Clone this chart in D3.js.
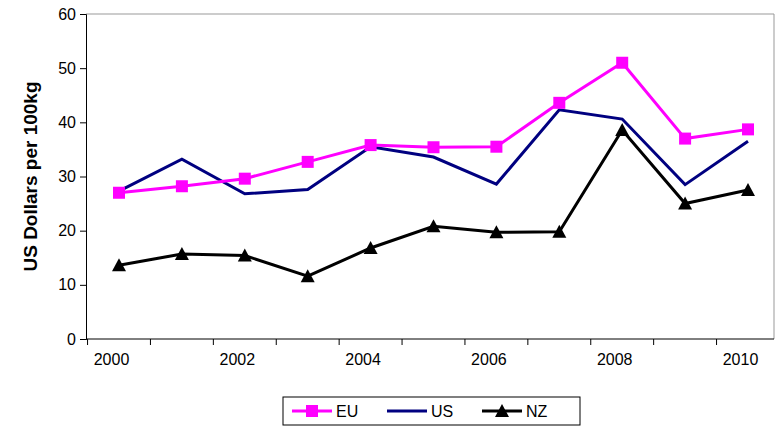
<!DOCTYPE html>
<html>
<head>
<meta charset="utf-8" />
<script src="https://cdn.jsdelivr.net/npm/d3@7"></script>
<style>
body { margin: 0; background: #fff; }
text { font-family: "Liberation Sans", Arial, sans-serif; }
</style>
</head>
<body>
<script>
var years = [2000, 2001, 2002, 2003, 2004, 2005, 2006, 2007, 2008, 2009, 2010];
var tickYears = [2000, 2002, 2004, 2006, 2008, 2010];
var eu = [27, 28.2, 29.6, 32.7, 35.8, 35.4, 35.5, 43.6, 51, 37, 38.7];
var us = [27.3, 33.2, 26.8, 27.6, 35.5, 33.6, 28.6, 42.3, 40.6, 28.5, 36.5];
var nz = [13.6, 15.7, 15.4, 11.6, 16.8, 20.8, 19.7, 19.8, 38.6, 25, 27.5];
var yTicks = [0, 10, 20, 30, 40, 50, 60];

var w = 775, h = 429;
var pLeft = 86, pRight = 774, pTop = 14, pBottom = 339;

var svg = d3.select("body").append("svg").attr("width", w).attr("height", h);

var x = d3.scalePoint().domain(years).range([pLeft + 33, pRight - 26]);
var y = d3.scaleLinear().domain([0, 60]).range([pBottom, pTop]);

// plot frame (top and right in grey)
svg.append("path")
    .attr("d", "M" + pLeft + "," + pTop + "H" + pRight + "V" + pBottom)
    .attr("fill", "none").attr("stroke", "#999").attr("stroke-width", 1);

var yAxis = d3.axisLeft(y).tickValues(yTicks).tickSize(6).tickPadding(4);
var gy = svg.append("g").attr("transform", "translate(" + pLeft + ",0)").call(yAxis);
gy.selectAll("text").style("font-size", "16px").attr("fill", "#000");

var xAxis = d3.axisBottom(x).tickValues(tickYears).tickSize(0).tickPadding(15);
var gx = svg.append("g").attr("transform", "translate(0," + pBottom + ")").call(xAxis);
gx.select(".domain").attr("d", "M" + pLeft + ",0H" + pRight);
gx.selectAll(".tick text").style("font-size", "16px").attr("fill", "#000").attr("dx", "-8");
// tick marks between categories
var step = x.step();
years.concat([2011]).forEach(function (yr, i) {
    var px = x(years[0]) - step / 2 + i * step;
    svg.append("line").attr("x1", px).attr("x2", px)
        .attr("y1", pBottom).attr("y2", pBottom + 6).attr("stroke", "#000");
});
svg.selectAll(".domain, .tick line").attr("stroke", "#000");

svg.append("text")
    .attr("transform", "translate(37," + ((pTop + pBottom) / 2) + ") rotate(-90)")
    .attr("text-anchor", "middle").style("font-size", "19px").style("font-weight", "bold")
    .text("US Dollars per 100kg");

var line = d3.line().x(function (d, i) { return x(years[i]); }).y(function (d) { return y(d); });

var series = [
    { name: "EU", data: eu, color: "#ff00ff", marker: "square" },
    { name: "US", data: us, color: "#000080", marker: null },
    { name: "NZ", data: nz, color: "#000000", marker: "triangle" }
];

function marker(g, type, color, cx, cy) {
    if (type === "square") {
        g.append("rect").attr("x", cx - 6).attr("y", cy - 6).attr("width", 12).attr("height", 12).attr("fill", color);
    } else if (type === "triangle") {
        g.append("path").attr("d", "M" + cx + "," + (cy - 7) + "L" + (cx + 7) + "," + (cy + 6) + "L" + (cx - 7) + "," + (cy + 6) + "Z").attr("fill", color);
    }
}

[series[1], series[0], series[2]].forEach(function (s) {
    svg.append("path").datum(s.data).attr("d", line).attr("fill", "none")
        .attr("stroke", s.color).attr("stroke-width", 3);
    var g = svg.append("g");
    s.data.forEach(function (v, i) { marker(g, s.marker, s.color, x(years[i]), y(v)); });
});

// legend
var lg = svg.append("g");
lg.append("rect").attr("x", 283).attr("y", 397).attr("width", 297).attr("height", 28)
    .attr("fill", "#fff").attr("stroke", "#000");
series.forEach(function (s, i) {
    var lx = 292 + i * 95, ly = 411;
    lg.append("line").attr("x1", lx).attr("x2", lx + 40).attr("y1", ly).attr("y2", ly)
        .attr("stroke", s.color).attr("stroke-width", 3);
    marker(lg, s.marker, s.color, lx + 20, ly);
    lg.append("text").attr("x", lx + 44).attr("y", ly + 6).style("font-size", "16px").text(s.name);
});
</script>
</body>
</html>
